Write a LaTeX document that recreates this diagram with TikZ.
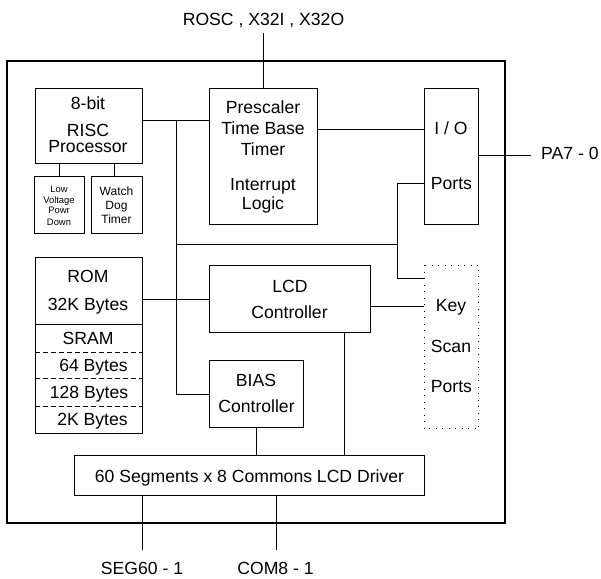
\documentclass[tikz,border=0pt]{standalone}
\usepackage{fontspec}
\setmainfont{Liberation Sans}
\begin{document}
\begin{tikzpicture}[x=1pt,y=-1pt,
  box/.style={draw, line width=0.9pt, anchor=north west, inner sep=0, rectangle},
  ln/.style={line width=0.9pt},
  txt/.style={anchor=base, inner sep=0, font=\fontsize{17.6}{20}\selectfont},
  tinytxt/.style={txt, font=\fontsize{9.4}{11}\selectfont},
  smalltxt/.style={txt, font=\fontsize{12}{14}\selectfont}]
\useasboundingbox (0,0) rectangle (601,578);
% outer frame
\draw[line width=2pt] (7,61) rectangle (505,523);
% boxes
\node[box, minimum width=107pt, minimum height=75pt] (risc) at (35,88) {};
\node[box, minimum width=50pt, minimum height=57pt] (lv) at (34,176) {};
\node[box, minimum width=51pt, minimum height=57pt] (wd) at (91,176) {};
\node[box, minimum width=108pt, minimum height=136pt] (pre) at (209,88) {};
\node[box, minimum width=54pt, minimum height=136pt] (io) at (424,88) {};
\node[box, minimum width=107pt, minimum height=67pt] (rom) at (35,257) {};
\node[box, minimum width=107pt, minimum height=109pt] (sram) at (35,324) {};
\node[box, minimum width=161pt, minimum height=67pt] (lcd) at (209,265) {};
\node[box, minimum width=94pt, minimum height=67pt] (bias) at (209,360) {};
\node[box, draw=none, minimum width=54pt, minimum height=163pt] (key) at (424,265) {};
\draw[line width=0.9pt, dash pattern=on 1pt off 5.5pt] (key.north west) rectangle (key.south east);
\node[box, minimum width=350pt, minimum height=40pt] (drv) at (74,455) {};
% SRAM dashed separators
\draw[ln, dash pattern=on 5pt off 3pt] (35,352) -- (142,352);
\draw[ln, dash pattern=on 5pt off 3pt] (35,378) -- (142,378);
\draw[ln, dash pattern=on 5pt off 3pt] (35,406) -- (142,406);
% texts
\node[txt] (rosc) at (263.5,26) {ROSC , X32I , X32O};
\node[txt] (r1) at (88,109) {8-bit};
\node[txt] (r2) at (88,136) {RISC};
\node[txt] (r3) at (88,152) {Processor};
\node[tinytxt] (l1) at (59,192) {Low};
\node[tinytxt] (l2) at (59,203) {Voltage};
\node[tinytxt] (l3) at (59,213.5) {Powr};
\node[tinytxt] (l4) at (59,225) {Down};
\node[smalltxt] (w1) at (116.5,195) {Watch};
\node[smalltxt] (w2) at (116.5,209) {Dog};
\node[smalltxt] (w3) at (116.5,223) {Timer};
\node[txt] (p1) at (263,113) {Prescaler};
\node[txt] (p2) at (263,134) {Time Base};
\node[txt] (p3) at (263,155) {Timer};
\node[txt] (p4) at (263,190) {Interrupt};
\node[txt] (p5) at (263,209) {Logic};
\node[txt] (i1) at (451,134) {I / O};
\node[txt] (i2) at (451.5,189) {Ports};
\node[txt, anchor=base west] (pa) at (541,159) {PA7 - 0};
\node[txt] (m1) at (88,282) {ROM};
\node[txt] (m2) at (88,310) {32K Bytes};
\node[txt] (m3) at (88,344) {SRAM};
\node[txt] (m4) at (93.5,371) {64 Bytes};
\node[txt] (m5) at (89,398) {128 Bytes};
\node[txt] (m6) at (92.5,425) {2K Bytes};
\node[txt] (c1) at (290,292) {LCD};
\node[txt] (c2) at (289.5,318) {Controller};
\node[txt] (b1t) at (256,386) {BIAS};
\node[txt] (b2t) at (256.5,412) {Controller};
\node[txt] (k1) at (451,311) {Key};
\node[txt] (k2) at (451,352) {Scan};
\node[txt] (k3) at (451.5,392) {Ports};
\node[txt] (d1) at (249.5,482) {60 Segments x 8 Commons LCD Driver};
\node[txt] (seg) at (142,574.5) {SEG60 - 1};
\node[txt] (com) at (275.5,574.5) {COM8 - 1};
% coordinates
\coordinate (roscend) at (263,33);
\coordinate (bA) at (176,120);
\coordinate (bB) at (176,244);
\coordinate (bC) at (397,244);
\coordinate (bD) at (397,183);
\coordinate (bE) at (397,278);
\coordinate (bF) at (317,129);
\coordinate (paend) at (531,155);
\coordinate (bG) at (370,306);
\coordinate (bH) at (344,332);
\coordinate (segend) at (142,550);
\coordinate (comend) at (276,550);
% connectors
\draw[ln] (roscend) -- (roscend |- pre.north);
\draw[ln] (risc.east |- bA) -- (pre.west |- bA);
\draw[ln] (bA) -- (bA |- bias.west) -- (bias.west);
\draw[ln] (bB) -- (bC);
\draw[ln] (io.west |- bD) -- (bD) -- (bE) -- (key.west |- bE);
\draw[ln] (rom.east |- lcd.west) -- (lcd.west);
\draw[ln] (pre.east |- bF) -- (io.west |- bF);
\draw[ln] (io.east |- paend) -- (paend);
\draw[ln] (bG) -- (key.west |- bG);
\draw[ln] (bH) -- (bH |- drv.north);
\draw[ln] (bias.south) -- (bias.south |- drv.north);
\draw[ln] (lv.north) -- (lv.north |- risc.south);
\draw[ln] (114,176) -- (114,163);
\draw[ln] (segend |- drv.south) -- (segend);
\draw[ln] (comend |- drv.south) -- (comend);
\end{tikzpicture}
\end{document}
